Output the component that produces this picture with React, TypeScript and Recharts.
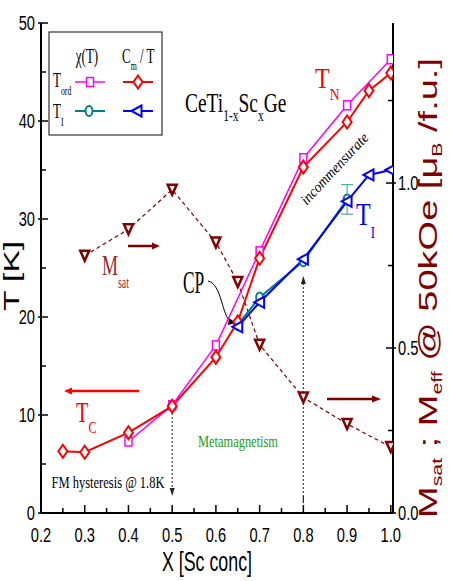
import React from 'react';
import { ComposedChart, Line, XAxis, YAxis, ErrorBar, Customized } from 'recharts';

// x positions (Sc concentration) and values
const xTicks = [0.2, 0.25, 0.3, 0.35, 0.4, 0.45, 0.5, 0.55, 0.6, 0.65, 0.7, 0.75, 0.8, 0.85, 0.9, 0.95, 1.0];
const tTicks = [0, 5, 10, 15, 20, 25, 30, 35, 40, 45, 50];
const mTicks = [0, 0.25, 0.5, 0.75, 1.0, 1.25];

const chiTordX = [0.4, 0.5, 0.6, 0.7, 0.8, 0.9, 1.0];
const chiTordY = [7.3, 11.0, 17.1, 26.7, 36.2, 41.6, 46.3];

const cmTordX = [0.25, 0.3, 0.4, 0.5, 0.6, 0.65, 0.7, 0.8, 0.9, 0.95, 1.0];
const cmTordY = [6.3, 6.2, 8.2, 10.9, 15.9, 19.5, 26.0, 35.3, 39.9, 43.1, 44.9];

const chiTiX = [0.65, 0.7, 0.8, 0.9];
const chiTiY = [19.2, 22.0, 25.7, 32.0];
const chiTiErr = [0, 0, 0, 1.5];

const cmTiX = [0.65, 0.7, 0.8, 0.9, 0.95, 1.0];
const cmTiY = [19.0, 21.5, 25.9, 31.8, 34.5, 35.0];

const msatX = [0.3, 0.4, 0.5, 0.6, 0.65, 0.7, 0.8, 0.9, 1.0];
const msatY = [0.78, 0.86, 0.98, 0.82, 0.70, 0.51, 0.35, 0.27, 0.20];

const zip = (xs: number[], ys: number[]) => xs.map((x, i) => ({ x, y: ys[i] }));

const SANS = 'Liberation Sans, Arial, sans-serif';
const SERIF = 'Liberation Serif, Times New Roman, serif';

// plot geometry (used only for placing annotations)
const L = 41, R = 393, T = 23, B = 513;
const X0 = 0.2, X1 = 1.005, M1 = 1.485;
const px = (v: number) => L + ((v - X0) / (X1 - X0)) * (R - L);

const BottomTick = (p: any) => {
  const { x, y, payload } = p;
  const v = payload.value;
  const major = Math.round(v * 100) % 10 === 0;
  return (
    <g>
      <line x1={x} x2={x} y1={y} y2={y - (major ? 8 : 5)} stroke="#000" strokeWidth={1.5} />
      {major && (
        <text transform={`translate(${x},${y + 29}) scale(0.7,1)`} textAnchor="middle" fontSize={21} fontFamily={SANS}>
          {v.toFixed(1)}
        </text>
      )}
    </g>
  );
};

const TopTick = (p: any) => {
  const { x, y, payload } = p;
  const major = Math.round(payload.value * 100) % 10 === 0;
  return <line x1={x} x2={x} y1={y} y2={y + (major ? 8 : 5)} stroke="#000" strokeWidth={1.5} />;
};

const LeftTick = (p: any) => {
  const { x, y, payload } = p;
  const v = payload.value;
  const major = v % 10 === 0;
  return (
    <g>
      <line x1={major ? x - 3 : x} x2={x + (major ? 7 : 5)} y1={y} y2={y} stroke="#000" strokeWidth={1.5} />
      {major && (
        <text transform={`translate(${x - 6},${y + 7}) scale(0.7,1)`} textAnchor="end" fontSize={21} fontFamily={SANS}>
          {v}
        </text>
      )}
    </g>
  );
};

const RightTick = (p: any) => {
  const { x, y, payload } = p;
  const v = payload.value;
  const major = Math.round(v * 100) % 50 === 0;
  return (
    <g>
      <line x1={x - (major ? 7 : 5)} x2={major ? x + 3 : x} y1={y} y2={y} stroke="#000" strokeWidth={1.5} />
      {major && (
        <text transform={`translate(${x + 5},${y + 7}) scale(0.7,1)`} textAnchor="start" fontSize={21} fontFamily={SANS}>
          {v.toFixed(1)}
        </text>
      )}
    </g>
  );
};

const Square = ({ cx, cy }: any) => (
  <rect x={cx - 3.5} y={cy - 4.5} width={7} height={9} fill="#fff" stroke="#ff00ff" strokeWidth={1.5} />
);
const Diamond = ({ cx, cy }: any) => (
  <polygon points={`${cx},${cy - 6.5} ${cx + 4.5},${cy} ${cx},${cy + 6.5} ${cx - 4.5},${cy}`} fill="#fff" stroke="#ff0000" strokeWidth={2} />
);
const Circle = ({ cx, cy }: any) => (
  <ellipse cx={cx} cy={cy} rx={3.5} ry={5} fill="#fff" stroke="#008080" strokeWidth={2} />
);
const LeftTri = ({ cx, cy }: any) => (
  <polygon points={`${cx - 5.5},${cy} ${cx + 4.5},${cy - 5.5} ${cx + 4.5},${cy + 5.5}`} fill="#fff" stroke="#0000ff" strokeWidth={2} />
);
const DownTri = ({ cx, cy }: any) => (
  <polygon points={`${cx - 4.5},${cy - 5} ${cx + 4.5},${cy - 5} ${cx},${cy + 5}`} fill="#fff" stroke="#800000" strokeWidth={2.5} />
);

const dot = (Shape: any) => (props: any) => <Shape key={`${props.index}`} cx={props.cx} cy={props.cy} />;

const Txt = ({ x, y, sx = 0.7, rot = 0, anchor = 'start', size, family = SERIF, fill = '#000', italic, children }: any) => (
  <text
    transform={`translate(${x},${y}) rotate(${rot}) scale(${sx},1)`}
    textAnchor={anchor}
    fontSize={size}
    fontFamily={family}
    fill={fill}
    fontStyle={italic ? 'italic' : 'normal'}
  >
    {children}
  </text>
);

const Annotations = () => {
  const x5 = px(0.5);
  const x8 = px(0.8);
  return (
    <g>
      {/* legend */}
      <rect x={49} y={32} width={113} height={103} fill="#fff" stroke="#333" strokeWidth={1.2} />
      <Txt x={87} y={63} size={20} sx={0.65} anchor="middle">χ(T)</Txt>
      <Txt x={122} y={63} size={20} sx={0.65}>
        C<tspan dy={7} fontSize={12}>m</tspan><tspan dy={-7}> / T</tspan>
      </Txt>
      <Txt x={53} y={87} size={20} sx={0.65}>
        T<tspan dy={8} fontSize={12}>ord</tspan>
      </Txt>
      <Txt x={53} y={118} size={20} sx={0.65}>
        T<tspan dy={8} fontSize={12}>I</tspan>
      </Txt>
      <line x1={75} x2={105} y1={82} y2={82} stroke="#ff00ff" strokeWidth={1.5} />
      <Square cx={90} cy={82} />
      <line x1={123} x2={153} y1={82} y2={82} stroke="#ff0000" strokeWidth={2} />
      <Diamond cx={138} cy={82} />
      <line x1={75} x2={105} y1={111} y2={111} stroke="#008080" strokeWidth={2} />
      <Circle cx={89} cy={111} />
      <line x1={123} x2={153} y1={111} y2={111} stroke="#0000ff" strokeWidth={2} />
      <LeftTri cx={137} cy={111} />

      {/* compound */}
      <Txt x={185} y={112} size={27} sx={0.72}>
        CeTi<tspan dy={9} fontSize={16}>1-x</tspan>
        <tspan dy={-9}>Sc</tspan>
        <tspan dy={9} fontSize={16}>x</tspan>
        <tspan dy={-9}>Ge</tspan>
      </Txt>

      {/* phase labels */}
      <Txt x={315} y={88} size={30} sx={0.8} fill="#ff0000">
        T<tspan dy={12} fontSize={17}>N</tspan>
      </Txt>
      <Txt x={356} y={225} size={32} sx={0.75} fill="#0000ff">
        T<tspan dy={13} fontSize={17}>I</tspan>
      </Txt>
      <Txt x={76} y={422} size={29} sx={0.7} fill="#ff0000">
        T<tspan dy={11} fontSize={17}>C</tspan>
      </Txt>
      <Txt x={102} y={275} size={29} sx={0.62} fill="#952a2a">
        M<tspan dy={13} fontSize={16}>sat</tspan>
      </Txt>
      <Txt x={183} y={293} size={31} sx={0.56}>CP</Txt>
      <path d="M 208 281 C 222 284, 222 317, 231 322" fill="none" stroke="#000" strokeWidth={1} />
      <polygon points="229,318 236,323 228,325" fill="#000" />

      <text
        transform="translate(338,172) rotate(-47)"
        textAnchor="middle"
        fontSize={15}
        fontFamily={SERIF}
        fontStyle="italic"
        textLength={92}
        lengthAdjust="spacingAndGlyphs"
      >
        incommensurate
      </text>
      <text x={238} y={447} textAnchor="middle" fontSize={17} fontFamily={SERIF} fill="#229922" textLength={80} lengthAdjust="spacingAndGlyphs">
        Metamagnetism
      </text>
      <text x={108} y={488} textAnchor="middle" fontSize={17} fontFamily={SERIF} textLength={113} lengthAdjust="spacingAndGlyphs">
        FM hysteresis @ 1.8K
      </text>

      {/* arrows */}
      <line x1={128} x2={154} y1={246} y2={246} stroke="#800000" strokeWidth={2.5} />
      <polygon points="152,242.5 160,246 152,249.5" fill="#800000" />
      <line x1={139} x2={70} y1={391} y2={391} stroke="#ff0000" strokeWidth={2.5} />
      <polygon points="72,387.5 64,391 72,394.5" fill="#ff0000" />
      <line x1={327} x2={374} y1={399} y2={399} stroke="#800000" strokeWidth={2.5} />
      <polygon points="372,395.5 381,399 372,402.5" fill="#800000" />

      <line x1={x5} x2={x5} y1={413} y2={489} stroke="#444" strokeWidth={1.2} strokeDasharray="2 2" />
      <polygon points={`${x5 - 2.5},488 ${x5 + 2.5},488 ${x5},496`} fill="#222" />
      <line x1={x8} x2={x8} y1={283} y2={497} stroke="#444" strokeWidth={1.2} strokeDasharray="2 2" />
      <polygon points={`${x8 - 2.5},284 ${x8 + 2.5},284 ${x8},276`} fill="#222" />
      <line x1={x8} x2={x8} y1={496} y2={503} stroke="#222" strokeWidth={1.2} />

      {/* axis titles */}
      <text
        transform="translate(19,276) rotate(-90)"
        textAnchor="middle"
        fontSize={22}
        fontFamily={SANS}
        textLength={70}
        lengthAdjust="spacingAndGlyphs"
      >
        T [K]
      </text>
      <text x={207} y={571} textAnchor="middle" fontSize={28} fontFamily={SANS} textLength={90} lengthAdjust="spacingAndGlyphs">
        X [Sc conc]
      </text>
      <text
        transform="translate(437,288) rotate(-90)"
        textAnchor="middle"
        fontSize={25}
        fontFamily={SANS}
        fill="#800000"
        textLength={460}
        lengthAdjust="spacingAndGlyphs"
      >
        M<tspan dy={5} fontSize={14}>sat</tspan>
        <tspan dy={-5}> ; M</tspan>
        <tspan dy={5} fontSize={14}>eff</tspan>
        <tspan dy={-5}> @ 50kOe  [μ</tspan>
        <tspan dy={5} fontSize={14}>B</tspan>
        <tspan dy={-5}> /f.u.]</tspan>
      </text>
    </g>
  );
};

export default function App() {
  return (
    <div style={{ position: 'absolute', left: 0, top: 0, background: '#fff' }}>
      <ComposedChart width={450} height={581} margin={{ top: T, right: 0, bottom: 0, left: 0 }}>
        <XAxis
          dataKey="x"
          type="number"
          domain={[X0, X1]}
          ticks={xTicks}
          interval={0}
          height={581 - B}
          tickSize={0}
          tickMargin={0}
          tickLine={false}
          tick={<BottomTick />}
          axisLine={{ stroke: '#000', strokeWidth: 2 }}
          allowDataOverflow
        />
        <XAxis
          xAxisId="top"
          orientation="top"
          type="number"
          domain={[X0, X1]}
          ticks={xTicks}
          interval={0}
          height={0}
          tickSize={0}
          tickMargin={0}
          tickLine={false}
          tick={<TopTick />}
          axisLine={{ stroke: '#000', strokeWidth: 2 }}
          allowDataOverflow
        />
        <YAxis
          yAxisId="left"
          type="number"
          domain={[0, 50]}
          ticks={tTicks}
          interval={0}
          width={L}
          tickSize={0}
          tickMargin={0}
          tickLine={false}
          tick={<LeftTick />}
          axisLine={{ stroke: '#000', strokeWidth: 2 }}
          allowDataOverflow
        />
        <YAxis
          yAxisId="right"
          orientation="right"
          type="number"
          domain={[0, M1]}
          ticks={mTicks}
          interval={0}
          width={450 - R}
          tickSize={0}
          tickMargin={0}
          tickLine={false}
          tick={<RightTick />}
          axisLine={{ stroke: '#000', strokeWidth: 2 }}
          allowDataOverflow
        />

        <Line
          yAxisId="right"
          data={zip(msatX, msatY)}
          dataKey="y"
          stroke="#800000"
          strokeWidth={1.2}
          strokeDasharray="4 3"
          dot={dot(DownTri)}
          activeDot={false}
          isAnimationActive={false}
        />
        <Line
          yAxisId="left"
          data={zip(chiTordX, chiTordY)}
          dataKey="y"
          stroke="#ff00ff"
          strokeWidth={1.5}
          dot={dot(Square)}
          activeDot={false}
          isAnimationActive={false}
        />
        <Line
          yAxisId="left"
          data={chiTiX.map((x, i) => ({ x, y: chiTiY[i], err: chiTiErr[i] }))}
          dataKey="y"
          stroke="#008080"
          strokeWidth={2}
          dot={dot(Circle)}
          activeDot={false}
          isAnimationActive={false}
        >
          <ErrorBar dataKey="err" direction="y" width={6} stroke="#2a9a9a" strokeWidth={1} />
        </Line>
        <Line
          yAxisId="left"
          data={zip(cmTordX, cmTordY)}
          dataKey="y"
          stroke="#ff0000"
          strokeWidth={2}
          dot={dot(Diamond)}
          activeDot={false}
          isAnimationActive={false}
        />
        <Line
          yAxisId="left"
          data={zip(cmTiX, cmTiY)}
          dataKey="y"
          stroke="#0000ff"
          strokeWidth={2}
          dot={dot(LeftTri)}
          activeDot={false}
          isAnimationActive={false}
        />
        <Customized component={Annotations} />
      </ComposedChart>
    </div>
  );
}
